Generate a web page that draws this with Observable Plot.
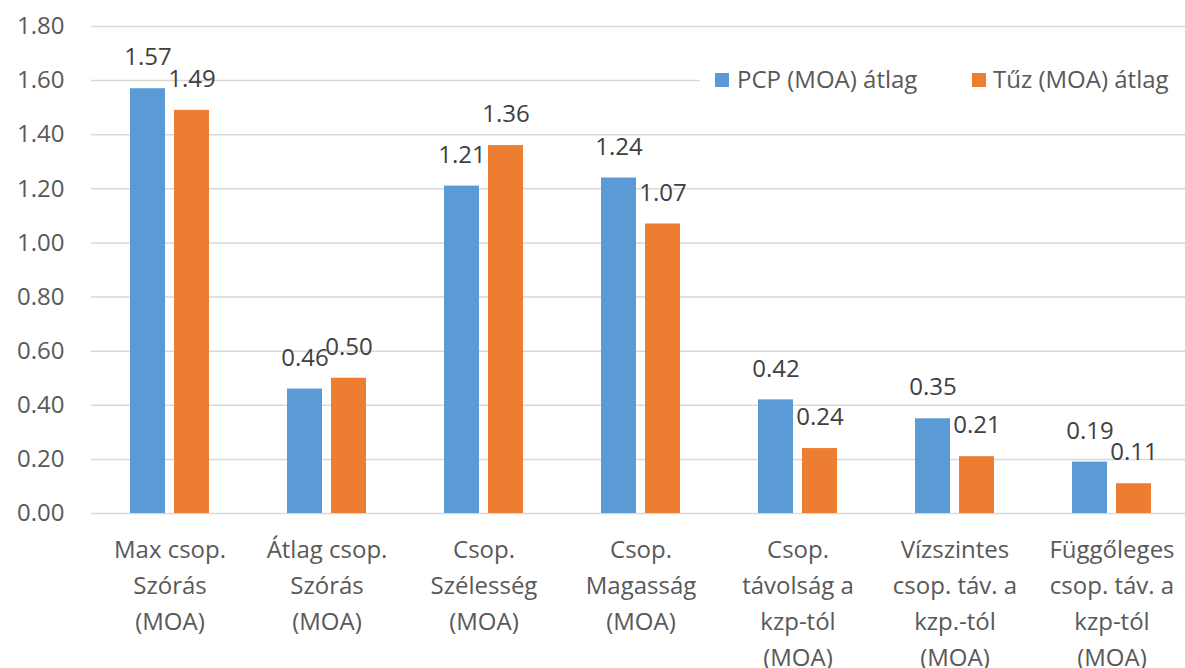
<!DOCTYPE html>
<html><head><meta charset="utf-8">
<script src="https://cdn.jsdelivr.net/npm/d3@7"></script>
<script src="https://cdn.jsdelivr.net/npm/@observablehq/plot@0.6"></script>
<style>
body{margin:0;background:#fff;font-family:"Open Sans",sans-serif;overflow:hidden;}
#wrap{position:relative;width:1185px;height:668px;overflow:hidden;}
#chart{width:1192px;}
#chart svg{max-width:none !important;}
#legend{position:absolute;left:700px;top:58px;width:485px;height:44px;background:#fff;font-size:24px;color:#595959;}
.sw{position:absolute;width:14px;height:14px;top:15px;}
.tx{position:absolute;top:5px;white-space:nowrap;line-height:32px;}
</style></head><body>
<div id="wrap"><div id="chart"></div>
<div id="legend"></div></div>
<script>
const categories = ["Max csop. Szórás (MOA)","Átlag csop. Szórás (MOA)","Csop. Szélesség (MOA)","Csop. Magasság (MOA)","Csop. távolság a kzp-tól (MOA)","Vízszintes csop. táv. a kzp.-tól (MOA)","Függőleges csop. táv. a kzp-tól (MOA)"];
const tickLabels = ["Max csop.\nSzórás\n(MOA)","Átlag csop.\nSzórás\n(MOA)","Csop.\nSzélesség\n(MOA)","Csop.\nMagasság\n(MOA)","Csop.\ntávolság a\nkzp-tól\n(MOA)","Vízszintes\ncsop. táv. a\nkzp.-tól\n(MOA)","Függőleges\ncsop. táv. a\nkzp-tól\n(MOA)"];
const seriesNames = ["PCP (MOA) átlag","Tűz (MOA) átlag"];
const pcp = [1.57,0.46,1.21,1.24,0.42,0.35,0.19];
const tuz = [1.49,0.50,1.36,1.07,0.24,0.21,0.11];
const colors = ["#5B9BD5","#ED7D31"];
const yTicks = [0,0.2,0.4,0.6,0.8,1.0,1.2,1.4,1.6,1.8];

const data = [];
categories.forEach((c,i)=>{
  data.push({cat:c, series:seriesNames[0], value:pcp[i]});
  data.push({cat:c, series:seriesNames[1], value:tuz[i]});
});
const labelOf = new Map(categories.map((c,i)=>[c,tickLabels[i]]));

const chart = Plot.plot({
  width:1192, height:668,
  marginLeft:89, marginRight:0, marginTop:26, marginBottom:155,
  style:{fontFamily:"Open Sans, sans-serif", background:"#fff", maxWidth:"none"},
  fx:{domain:categories, padding:0, label:null},
  x:{domain:seriesNames, paddingInner:0.2, paddingOuter:0.851, axis:null},
  y:{domain:[0,1.8], ticks:yTicks, label:null},
  color:{domain:seriesNames, range:colors},
  marks:[
    Plot.gridY(yTicks, {stroke:"#d9d9d9", strokeOpacity:1, strokeWidth:1.5}),
    Plot.barY(data, {fx:"cat", x:"series", y:"value", fill:"series"}),
    Plot.text(data, {fx:"cat", x:"series", y:"value", text:d=>d.value.toFixed(2), dy:-31, fontSize:24, fill:"#404040"}),
    Plot.axisY(yTicks, {tickSize:0, tickPadding:27, tickFormat:d=>d.toFixed(2), fontSize:24, fill:"#595959", label:null}),
    Plot.axisFx({anchor:"bottom", tickSize:0, tickPadding:19, tickFormat:d=>labelOf.get(d), fontSize:24, fill:"#595959", lineHeight:1.5, label:null, lineAnchor:"top"})
  ]
});
document.getElementById("chart").appendChild(chart);

const lg = document.getElementById("legend");
const swX = [15, 272], txX = [37, 293];
seriesNames.forEach((s,i)=>{
  const sw = document.createElement("span"); sw.className="sw"; sw.style.background=colors[i]; sw.style.left=swX[i]+"px";
  const tx = document.createElement("span"); tx.className="tx"; tx.style.left=txX[i]+"px"; tx.textContent=s;
  lg.appendChild(sw); lg.appendChild(tx);
});
</script></body></html>
